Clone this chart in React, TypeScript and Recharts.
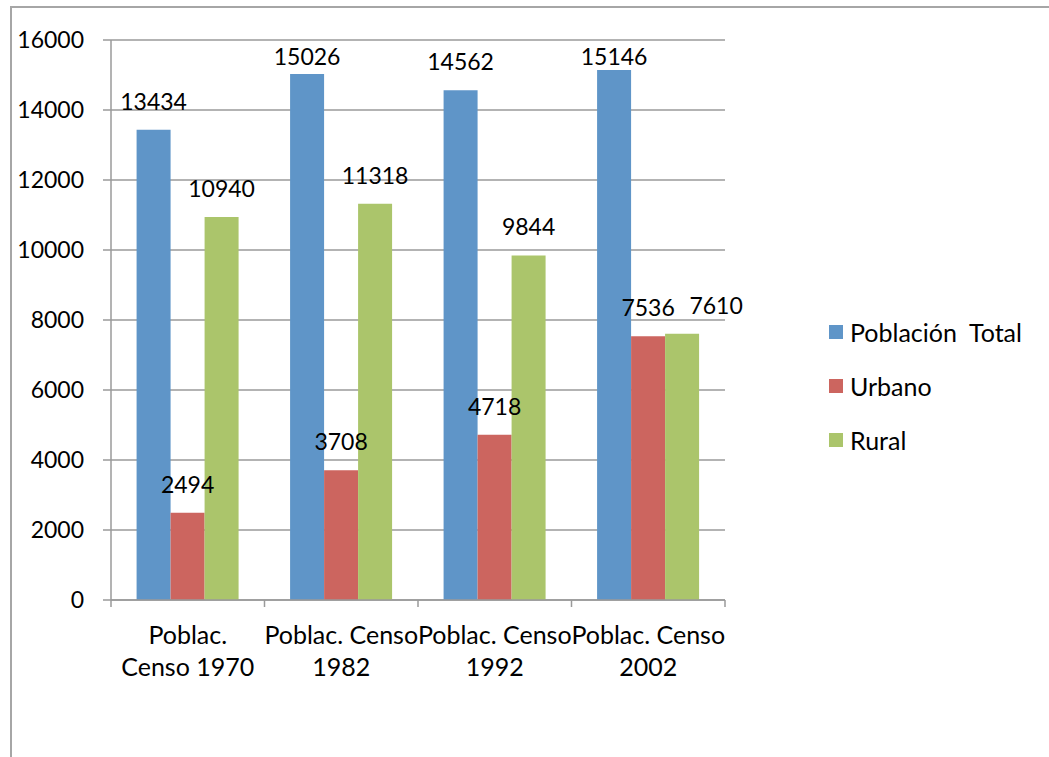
import { BarChart, Bar, XAxis, YAxis, CartesianGrid, LabelList } from 'recharts'

const CATEGORIES = ['Poblac. Censo 1970', 'Poblac. Censo 1982', 'Poblac. Censo 1992', 'Poblac. Censo 2002']
// how the category labels wrap in the original
const TICK_LINES = [
  ['Poblac.', 'Censo 1970'],
  ['Poblac. Censo', '1982'],
  ['Poblac. Censo', '1992'],
  ['Poblac. Censo', '2002'],
]
const TOTAL = [13434, 15026, 14562, 15146]
const URBANO = [2494, 3708, 4718, 7536]
const RURAL = [10940, 11318, 9844, 7610]
const Y_TICKS = [0, 2000, 4000, 6000, 8000, 10000, 12000, 14000, 16000]

const SERIES = [
  { key: 'total', name: 'Población  Total', color: '#5f95c8' },
  { key: 'urbano', name: 'Urbano', color: '#cc655f' },
  { key: 'rural', name: 'Rural', color: '#abc56b' },
]

const data = CATEGORIES.map((c, i) => ({
  name: c,
  total: TOTAL[i],
  urbano: URBANO[i],
  rural: RURAL[i],
}))

const W = 1049
const H = 757
const PLOT_TOP = 40
const FONT = 23 // numbers
const TEXT_FONT = 25 // words (category labels, legend)
const GRID = '#9a9a9a'

function XTick(props: any) {
  const { x, y, payload, index, width, visibleTicksCount } = props
  const half = payload?.offset || width / visibleTicksCount / 2
  const lines = TICK_LINES[index] || [String(payload.value)]
  const isLast = index === visibleTicksCount - 1
  return (
    <g>
      <line x1={x - half} x2={x - half} y1={y} y2={y + 7} stroke={GRID} strokeWidth={1.5} />
      {isLast && <line x1={x + half} x2={x + half} y1={y} y2={y + 7} stroke={GRID} strokeWidth={1.5} />}
      {lines.map((l, i) => (
        <text key={i} x={x} y={y + 44 + i * 32} textAnchor="middle" fill="#000" fontSize={TEXT_FONT}>
          {l}
        </text>
      ))}
    </g>
  )
}

function makeLabel(key: string) {
  return (props: any) => {
    const { x, y, width, value, index } = props
    let dx = 0
    // rural label is pushed aside when it would sit on top of the urban one
    if (key === 'rural' && Math.abs(URBANO[index] - RURAL[index]) < 1000) dx = width
    const cy = Math.max(y - 28, PLOT_TOP + 17)
    return (
      <text x={x + width / 2 + dx} y={cy + 8} textAnchor="middle" fill="#000" fontSize={FONT}>
        {value}
      </text>
    )
  }
}

export default function App() {
  return (
    <div
      style={{
        position: 'fixed',
        left: 0,
        top: 0,
        width: W,
        height: H,
        background: '#fff',
        overflow: 'hidden',
        fontFamily: 'Lato, sans-serif',
      }}
    >
      <div
        style={{
          position: 'absolute',
          left: 10,
          top: 6,
          width: W + 50,
          height: H + 50,
          borderTop: '2px solid #a6a6a6',
          borderLeft: '2px solid #a6a6a6',
        }}
      />
      <div style={{ position: 'absolute', left: 0, top: 0 }}>
        <BarChart
          width={W}
          height={H}
          data={data}
          margin={{ top: PLOT_TOP, right: 324, bottom: 0, left: 0 }}
          barCategoryGap="16.67%"
          barGap={0}
        >
          <CartesianGrid vertical={false} stroke={GRID} strokeWidth={1.5} />
          <XAxis
            dataKey="name"
            height={157}
            interval={0}
            tickLine={false}
            tickSize={0}
            tickMargin={0}
            axisLine={{ stroke: GRID, strokeWidth: 1.5 }}
            tick={<XTick />}
          />
          <YAxis
            width={111}
            domain={[0, 16000]}
            ticks={Y_TICKS}
            interval={0}
            tickSize={8}
            tickMargin={19}
            axisLine={{ stroke: GRID, strokeWidth: 1.5 }}
            tickLine={{ stroke: GRID, strokeWidth: 1.5 }}
            tick={{ fill: '#000', fontSize: FONT }}
          />
          {SERIES.map(s => (
            <Bar key={s.key} dataKey={s.key} name={s.name} fill={s.color} isAnimationActive={false}>
              <LabelList dataKey={s.key} content={makeLabel(s.key)} />
            </Bar>
          ))}
        </BarChart>
      </div>
      <div style={{ position: 'absolute', left: 829, top: 305 }}>
        {SERIES.map(s => (
          <div key={s.key} style={{ height: 54, display: 'flex', alignItems: 'center' }}>
            <span style={{ width: 14, height: 14, background: s.color, marginRight: 7, display: 'inline-block' }} />
            <span style={{ fontSize: TEXT_FONT, color: '#000', whiteSpace: 'pre' }}>{s.name}</span>
          </div>
        ))}
      </div>
    </div>
  )
}
